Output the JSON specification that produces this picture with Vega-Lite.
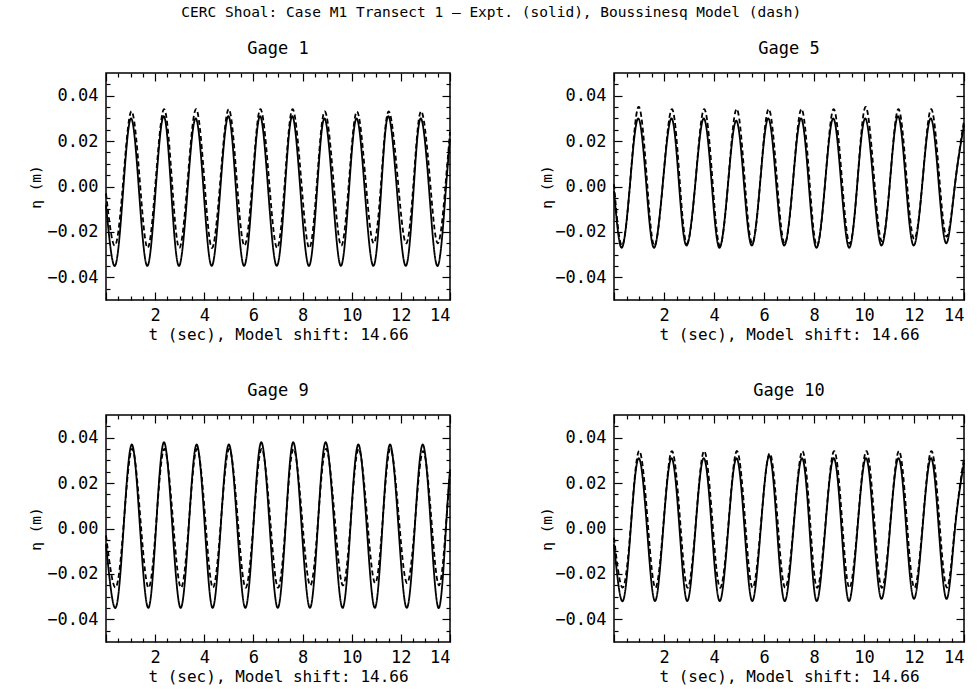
{
  "$schema": "https://vega.github.io/schema/vega-lite/v6.json",
  "background": "white",
  "padding": {"left": 28, "top": 5, "right": 3, "bottom": 5},
  "title": {"text": "CERC Shoal: Case M1 Transect 1 – Expt. (solid), Boussinesq Model (dash)", "fontSize": 14.5, "anchor": "middle", "dx": -7, "offset": 19},
  "columns": 2,
  "spacing": {"row": 115, "column": 164},
  "bounds": "flush",
  "data": {"values": [
    {"g":"Gage 1","t":0,"expt":-0.008,"model":-0.003},
    {"g":"Gage 1","t":0.36,"expt":-0.035,"model":-0.026},
    {"g":"Gage 1","t":0.69,"expt":-0.003,"model":0.001},
    {"g":"Gage 1","t":1.02,"expt":0.030,"model":0.033},
    {"g":"Gage 1","t":1.35,"expt":-0.003,"model":0.006},
    {"g":"Gage 1","t":1.68,"expt":-0.035,"model":-0.027},
    {"g":"Gage 1","t":2.01,"expt":-0.003,"model":0.001},
    {"g":"Gage 1","t":2.35,"expt":0.031,"model":0.034},
    {"g":"Gage 1","t":2.66,"expt":-0.003,"model":0.006},
    {"g":"Gage 1","t":2.97,"expt":-0.035,"model":-0.027},
    {"g":"Gage 1","t":3.31,"expt":-0.003,"model":0.001},
    {"g":"Gage 1","t":3.65,"expt":0.030,"model":0.034},
    {"g":"Gage 1","t":3.98,"expt":-0.003,"model":0.006},
    {"g":"Gage 1","t":4.30,"expt":-0.035,"model":-0.027},
    {"g":"Gage 1","t":4.64,"expt":-0.003,"model":0.001},
    {"g":"Gage 1","t":4.98,"expt":0.031,"model":0.034},
    {"g":"Gage 1","t":5.30,"expt":-0.003,"model":0.006},
    {"g":"Gage 1","t":5.62,"expt":-0.035,"model":-0.026},
    {"g":"Gage 1","t":5.95,"expt":-0.003,"model":0.001},
    {"g":"Gage 1","t":6.27,"expt":0.031,"model":0.034},
    {"g":"Gage 1","t":6.61,"expt":-0.003,"model":0.006},
    {"g":"Gage 1","t":6.95,"expt":-0.035,"model":-0.027},
    {"g":"Gage 1","t":7.27,"expt":-0.003,"model":0.001},
    {"g":"Gage 1","t":7.58,"expt":0.031,"model":0.034},
    {"g":"Gage 1","t":7.92,"expt":-0.003,"model":0.006},
    {"g":"Gage 1","t":8.26,"expt":-0.035,"model":-0.027},
    {"g":"Gage 1","t":8.58,"expt":-0.003,"model":0.001},
    {"g":"Gage 1","t":8.89,"expt":0.030,"model":0.033},
    {"g":"Gage 1","t":9.23,"expt":-0.003,"model":0.006},
    {"g":"Gage 1","t":9.56,"expt":-0.035,"model":-0.026},
    {"g":"Gage 1","t":9.88,"expt":-0.003,"model":0.001},
    {"g":"Gage 1","t":10.20,"expt":0.030,"model":0.033},
    {"g":"Gage 1","t":10.54,"expt":-0.003,"model":0.006},
    {"g":"Gage 1","t":10.88,"expt":-0.035,"model":-0.025},
    {"g":"Gage 1","t":11.19,"expt":-0.003,"model":0.001},
    {"g":"Gage 1","t":11.49,"expt":0.031,"model":0.033},
    {"g":"Gage 1","t":11.85,"expt":-0.003,"model":0.006},
    {"g":"Gage 1","t":12.20,"expt":-0.035,"model":-0.025},
    {"g":"Gage 1","t":12.51,"expt":-0.003,"model":0.001},
    {"g":"Gage 1","t":12.81,"expt":0.030,"model":0.033},
    {"g":"Gage 1","t":13.16,"expt":-0.003,"model":0.006},
    {"g":"Gage 1","t":13.50,"expt":-0.035,"model":-0.025},
    {"g":"Gage 1","t":13.82,"expt":-0.003,"model":0.001},
    {"g":"Gage 1","t":14.00,"expt":0.021,"model":0.024},

    {"g":"Gage 5","t":0,"expt":-0.002,"model":0.001},
    {"g":"Gage 5","t":0.31,"expt":-0.027,"model":-0.026},
    {"g":"Gage 5","t":0.64,"expt":0.001,"model":0.001},
    {"g":"Gage 5","t":0.97,"expt":0.030,"model":0.035},
    {"g":"Gage 5","t":1.29,"expt":0.001,"model":0.007},
    {"g":"Gage 5","t":1.60,"expt":-0.027,"model":-0.026},
    {"g":"Gage 5","t":1.95,"expt":0.001,"model":0.001},
    {"g":"Gage 5","t":2.30,"expt":0.030,"model":0.034},
    {"g":"Gage 5","t":2.60,"expt":0.001,"model":0.007},
    {"g":"Gage 5","t":2.90,"expt":-0.026,"model":-0.025},
    {"g":"Gage 5","t":3.25,"expt":0.001,"model":0.001},
    {"g":"Gage 5","t":3.59,"expt":0.030,"model":0.034},
    {"g":"Gage 5","t":3.91,"expt":0.001,"model":0.007},
    {"g":"Gage 5","t":4.22,"expt":-0.027,"model":-0.026},
    {"g":"Gage 5","t":4.56,"expt":0.001,"model":0.001},
    {"g":"Gage 5","t":4.89,"expt":0.029,"model":0.034},
    {"g":"Gage 5","t":5.20,"expt":0.001,"model":0.007},
    {"g":"Gage 5","t":5.51,"expt":-0.026,"model":-0.025},
    {"g":"Gage 5","t":5.84,"expt":0.001,"model":0.001},
    {"g":"Gage 5","t":6.17,"expt":0.030,"model":0.034},
    {"g":"Gage 5","t":6.49,"expt":0.001,"model":0.007},
    {"g":"Gage 5","t":6.81,"expt":-0.026,"model":-0.025},
    {"g":"Gage 5","t":7.15,"expt":0.001,"model":0.001},
    {"g":"Gage 5","t":7.48,"expt":0.030,"model":0.034},
    {"g":"Gage 5","t":7.79,"expt":0.001,"model":0.007},
    {"g":"Gage 5","t":8.10,"expt":-0.027,"model":-0.026},
    {"g":"Gage 5","t":8.44,"expt":0.001,"model":0.001},
    {"g":"Gage 5","t":8.77,"expt":0.030,"model":0.034},
    {"g":"Gage 5","t":9.09,"expt":0.001,"model":0.007},
    {"g":"Gage 5","t":9.41,"expt":-0.027,"model":-0.025},
    {"g":"Gage 5","t":9.73,"expt":0.001,"model":0.001},
    {"g":"Gage 5","t":10.05,"expt":0.030,"model":0.035},
    {"g":"Gage 5","t":10.38,"expt":0.001,"model":0.007},
    {"g":"Gage 5","t":10.70,"expt":-0.026,"model":-0.024},
    {"g":"Gage 5","t":11.03,"expt":0.001,"model":0.001},
    {"g":"Gage 5","t":11.36,"expt":0.031,"model":0.034},
    {"g":"Gage 5","t":11.68,"expt":0.001,"model":0.007},
    {"g":"Gage 5","t":11.99,"expt":-0.026,"model":-0.023},
    {"g":"Gage 5","t":12.33,"expt":0.001,"model":0.001},
    {"g":"Gage 5","t":12.67,"expt":0.030,"model":0.034},
    {"g":"Gage 5","t":12.99,"expt":0.001,"model":0.007},
    {"g":"Gage 5","t":13.30,"expt":-0.025,"model":-0.022},
    {"g":"Gage 5","t":13.64,"expt":0.001,"model":0.001},
    {"g":"Gage 5","t":14.00,"expt":0.027,"model":0.029},

    {"g":"Gage 9","t":0,"expt":-0.007,"model":-0.003},
    {"g":"Gage 9","t":0.39,"expt":-0.035,"model":-0.026},
    {"g":"Gage 9","t":0.72,"expt":0.001,"model":0.002},
    {"g":"Gage 9","t":1.05,"expt":0.037,"model":0.035},
    {"g":"Gage 9","t":1.38,"expt":0.001,"model":0.007},
    {"g":"Gage 9","t":1.72,"expt":-0.035,"model":-0.026},
    {"g":"Gage 9","t":2.04,"expt":0.001,"model":0.002},
    {"g":"Gage 9","t":2.36,"expt":0.038,"model":0.035},
    {"g":"Gage 9","t":2.70,"expt":0.001,"model":0.007},
    {"g":"Gage 9","t":3.04,"expt":-0.035,"model":-0.026},
    {"g":"Gage 9","t":3.37,"expt":0.001,"model":0.002},
    {"g":"Gage 9","t":3.69,"expt":0.037,"model":0.035},
    {"g":"Gage 9","t":4.02,"expt":0.001,"model":0.007},
    {"g":"Gage 9","t":4.34,"expt":-0.035,"model":-0.026},
    {"g":"Gage 9","t":4.67,"expt":0.001,"model":0.002},
    {"g":"Gage 9","t":5.00,"expt":0.037,"model":0.035},
    {"g":"Gage 9","t":5.34,"expt":0.001,"model":0.007},
    {"g":"Gage 9","t":5.67,"expt":-0.035,"model":-0.026},
    {"g":"Gage 9","t":6.00,"expt":0.001,"model":0.002},
    {"g":"Gage 9","t":6.32,"expt":0.038,"model":0.035},
    {"g":"Gage 9","t":6.66,"expt":0.001,"model":0.007},
    {"g":"Gage 9","t":6.99,"expt":-0.035,"model":-0.026},
    {"g":"Gage 9","t":7.31,"expt":0.001,"model":0.002},
    {"g":"Gage 9","t":7.62,"expt":0.038,"model":0.035},
    {"g":"Gage 9","t":7.96,"expt":0.001,"model":0.007},
    {"g":"Gage 9","t":8.30,"expt":-0.035,"model":-0.025},
    {"g":"Gage 9","t":8.62,"expt":0.001,"model":0.002},
    {"g":"Gage 9","t":8.94,"expt":0.038,"model":0.035},
    {"g":"Gage 9","t":9.29,"expt":0.001,"model":0.007},
    {"g":"Gage 9","t":9.63,"expt":-0.035,"model":-0.025},
    {"g":"Gage 9","t":9.95,"expt":0.001,"model":0.002},
    {"g":"Gage 9","t":10.27,"expt":0.037,"model":0.035},
    {"g":"Gage 9","t":10.61,"expt":0.001,"model":0.007},
    {"g":"Gage 9","t":10.94,"expt":-0.035,"model":-0.024},
    {"g":"Gage 9","t":11.25,"expt":0.001,"model":0.002},
    {"g":"Gage 9","t":11.56,"expt":0.037,"model":0.035},
    {"g":"Gage 9","t":11.90,"expt":0.001,"model":0.007},
    {"g":"Gage 9","t":12.24,"expt":-0.035,"model":-0.024},
    {"g":"Gage 9","t":12.57,"expt":0.001,"model":0.002},
    {"g":"Gage 9","t":12.89,"expt":0.037,"model":0.034},
    {"g":"Gage 9","t":13.22,"expt":0.001,"model":0.007},
    {"g":"Gage 9","t":13.55,"expt":-0.035,"model":-0.025},
    {"g":"Gage 9","t":13.84,"expt":0.001,"model":0.002},
    {"g":"Gage 9","t":14.00,"expt":0.026,"model":0.024},

    {"g":"Gage 10","t":0,"expt":-0.007,"model":-0.004},
    {"g":"Gage 10","t":0.35,"expt":-0.032,"model":-0.026},
    {"g":"Gage 10","t":0.67,"expt":0.000,"model":0.001},
    {"g":"Gage 10","t":0.99,"expt":0.031,"model":0.034},
    {"g":"Gage 10","t":1.32,"expt":0.000,"model":0.007},
    {"g":"Gage 10","t":1.64,"expt":-0.032,"model":-0.026},
    {"g":"Gage 10","t":1.97,"expt":0.000,"model":0.001},
    {"g":"Gage 10","t":2.30,"expt":0.031,"model":0.034},
    {"g":"Gage 10","t":2.62,"expt":0.000,"model":0.007},
    {"g":"Gage 10","t":2.93,"expt":-0.032,"model":-0.026},
    {"g":"Gage 10","t":3.26,"expt":0.000,"model":0.001},
    {"g":"Gage 10","t":3.59,"expt":0.031,"model":0.034},
    {"g":"Gage 10","t":3.91,"expt":0.000,"model":0.007},
    {"g":"Gage 10","t":4.23,"expt":-0.032,"model":-0.026},
    {"g":"Gage 10","t":4.57,"expt":0.000,"model":0.001},
    {"g":"Gage 10","t":4.90,"expt":0.031,"model":0.034},
    {"g":"Gage 10","t":5.22,"expt":0.000,"model":0.007},
    {"g":"Gage 10","t":5.53,"expt":-0.032,"model":-0.026},
    {"g":"Gage 10","t":5.87,"expt":0.000,"model":0.001},
    {"g":"Gage 10","t":6.21,"expt":0.032,"model":0.033},
    {"g":"Gage 10","t":6.52,"expt":0.000,"model":0.007},
    {"g":"Gage 10","t":6.83,"expt":-0.032,"model":-0.026},
    {"g":"Gage 10","t":7.18,"expt":0.000,"model":0.001},
    {"g":"Gage 10","t":7.52,"expt":0.031,"model":0.034},
    {"g":"Gage 10","t":7.82,"expt":0.000,"model":0.007},
    {"g":"Gage 10","t":8.11,"expt":-0.032,"model":-0.026},
    {"g":"Gage 10","t":8.45,"expt":0.000,"model":0.001},
    {"g":"Gage 10","t":8.79,"expt":0.031,"model":0.034},
    {"g":"Gage 10","t":9.10,"expt":0.000,"model":0.007},
    {"g":"Gage 10","t":9.40,"expt":-0.032,"model":-0.026},
    {"g":"Gage 10","t":9.74,"expt":0.000,"model":0.001},
    {"g":"Gage 10","t":10.08,"expt":0.031,"model":0.034},
    {"g":"Gage 10","t":10.39,"expt":0.000,"model":0.007},
    {"g":"Gage 10","t":10.70,"expt":-0.031,"model":-0.026},
    {"g":"Gage 10","t":11.04,"expt":0.000,"model":0.001},
    {"g":"Gage 10","t":11.38,"expt":0.031,"model":0.034},
    {"g":"Gage 10","t":11.69,"expt":0.000,"model":0.007},
    {"g":"Gage 10","t":12.00,"expt":-0.031,"model":-0.026},
    {"g":"Gage 10","t":12.34,"expt":0.000,"model":0.001},
    {"g":"Gage 10","t":12.68,"expt":0.031,"model":0.034},
    {"g":"Gage 10","t":12.99,"expt":0.000,"model":0.007},
    {"g":"Gage 10","t":13.31,"expt":-0.031,"model":-0.026},
    {"g":"Gage 10","t":13.64,"expt":0.000,"model":0.001},
    {"g":"Gage 10","t":14.00,"expt":0.029,"model":0.031}
  ]},
  "concat": [
    {
      "title": {"text": "Gage 1"},
      "width": 344, "height": 227,
      "transform": [{"filter": "datum.g == 'Gage 1'"}, {"fold": ["expt", "model"], "as": ["series", "eta"]}],
      "layer": [
        {"mark": {"type": "line", "interpolate": "natural", "color": "black", "strokeWidth": 1.8},
         "encoding": {
           "x": {"field": "t", "type": "quantitative", "scale": {"domain": [0, 14], "nice": false, "zero": false}, "axis": {"orient": "bottom", "values": [0,2,4,6,8,10,12,14], "labelExpr": "datum.value == 0 ? '' : datum.label", "tickSize": -8, "labelPadding": 15, "title": "t (sec), Model shift: 14.66", "titlePadding": 3}},
           "y": {"field": "eta", "type": "quantitative", "scale": {"domain": [-0.05, 0.05], "nice": false, "zero": false}, "axis": {"orient": "left", "values": [-0.04,-0.02,0,0.02,0.04], "format": ".2f", "tickSize": -8, "labelPadding": 16, "title": "η (m)", "titleFontSize": 14.5, "titlePadding": 3}},
           "strokeDash": {"field": "series", "type": "nominal", "scale": {"domain": ["expt", "model"], "range": [[1, 0], [5, 3]]}, "legend": null}
         }},
        {"mark": {"type": "line", "opacity": 0},
         "encoding": {
           "x": {"field": "t", "type": "quantitative", "scale": {"domain": [0, 14], "nice": false, "zero": false}, "axis": {"orient": "bottom", "values": [0.5,1,1.5,2.5,3,3.5,4.5,5,5.5,6.5,7,7.5,8.5,9,9.5,10.5,11,11.5,12.5,13,13.5], "tickSize": -4, "labels": false, "title": null}},
           "y": {"field": "eta", "type": "quantitative", "scale": {"domain": [-0.05, 0.05], "nice": false, "zero": false}, "axis": {"orient": "left", "values": [-0.045,-0.035,-0.03,-0.025,-0.015,-0.01,-0.005,0.005,0.01,0.015,0.025,0.03,0.035,0.045], "tickSize": -4, "labels": false, "title": null}}
         }},
        {"mark": {"type": "line", "opacity": 0},
         "encoding": {
           "x": {"field": "t", "type": "quantitative", "scale": {"domain": [0, 14], "nice": false, "zero": false}, "axis": {"orient": "top", "values": [0,2,4,6,8,10,12,14], "tickSize": -8, "labels": false, "title": null}},
           "y": {"field": "eta", "type": "quantitative", "scale": {"domain": [-0.05, 0.05], "nice": false, "zero": false}, "axis": {"orient": "right", "values": [-0.04,-0.02,0,0.02,0.04], "tickSize": -8, "labels": false, "title": null}}
         }},
        {"mark": {"type": "line", "opacity": 0},
         "encoding": {
           "x": {"field": "t", "type": "quantitative", "scale": {"domain": [0, 14], "nice": false, "zero": false}, "axis": {"orient": "top", "values": [0.5,1,1.5,2.5,3,3.5,4.5,5,5.5,6.5,7,7.5,8.5,9,9.5,10.5,11,11.5,12.5,13,13.5], "tickSize": -4, "labels": false, "title": null}},
           "y": {"field": "eta", "type": "quantitative", "scale": {"domain": [-0.05, 0.05], "nice": false, "zero": false}, "axis": {"orient": "right", "values": [-0.045,-0.035,-0.03,-0.025,-0.015,-0.01,-0.005,0.005,0.01,0.015,0.025,0.03,0.035,0.045], "tickSize": -4, "labels": false, "title": null}}
         }}
      ],
      "resolve": {"axis": {"x": "independent", "y": "independent"}}
    },
    {
      "title": {"text": "Gage 5"},
      "width": 350, "height": 227,
      "transform": [{"filter": "datum.g == 'Gage 5'"}, {"fold": ["expt", "model"], "as": ["series", "eta"]}],
      "layer": [
        {"mark": {"type": "line", "interpolate": "natural", "color": "black", "strokeWidth": 1.8},
         "encoding": {
           "x": {"field": "t", "type": "quantitative", "scale": {"domain": [0, 14], "nice": false, "zero": false}, "axis": {"orient": "bottom", "values": [0,2,4,6,8,10,12,14], "labelExpr": "datum.value == 0 ? '' : datum.label", "tickSize": -8, "labelPadding": 15, "title": "t (sec), Model shift: 14.66", "titlePadding": 3}},
           "y": {"field": "eta", "type": "quantitative", "scale": {"domain": [-0.05, 0.05], "nice": false, "zero": false}, "axis": {"orient": "left", "values": [-0.04,-0.02,0,0.02,0.04], "format": ".2f", "tickSize": -8, "labelPadding": 16, "title": "η (m)", "titleFontSize": 14.5, "titlePadding": 0}},
           "strokeDash": {"field": "series", "type": "nominal", "scale": {"domain": ["expt", "model"], "range": [[1, 0], [5, 3]]}, "legend": null}
         }},
        {"mark": {"type": "line", "opacity": 0},
         "encoding": {
           "x": {"field": "t", "type": "quantitative", "scale": {"domain": [0, 14], "nice": false, "zero": false}, "axis": {"orient": "bottom", "values": [0.5,1,1.5,2.5,3,3.5,4.5,5,5.5,6.5,7,7.5,8.5,9,9.5,10.5,11,11.5,12.5,13,13.5], "tickSize": -4, "labels": false, "title": null}},
           "y": {"field": "eta", "type": "quantitative", "scale": {"domain": [-0.05, 0.05], "nice": false, "zero": false}, "axis": {"orient": "left", "values": [-0.045,-0.035,-0.03,-0.025,-0.015,-0.01,-0.005,0.005,0.01,0.015,0.025,0.03,0.035,0.045], "tickSize": -4, "labels": false, "title": null}}
         }},
        {"mark": {"type": "line", "opacity": 0},
         "encoding": {
           "x": {"field": "t", "type": "quantitative", "scale": {"domain": [0, 14], "nice": false, "zero": false}, "axis": {"orient": "top", "values": [0,2,4,6,8,10,12,14], "tickSize": -8, "labels": false, "title": null}},
           "y": {"field": "eta", "type": "quantitative", "scale": {"domain": [-0.05, 0.05], "nice": false, "zero": false}, "axis": {"orient": "right", "values": [-0.04,-0.02,0,0.02,0.04], "tickSize": -8, "labels": false, "title": null}}
         }},
        {"mark": {"type": "line", "opacity": 0},
         "encoding": {
           "x": {"field": "t", "type": "quantitative", "scale": {"domain": [0, 14], "nice": false, "zero": false}, "axis": {"orient": "top", "values": [0.5,1,1.5,2.5,3,3.5,4.5,5,5.5,6.5,7,7.5,8.5,9,9.5,10.5,11,11.5,12.5,13,13.5], "tickSize": -4, "labels": false, "title": null}},
           "y": {"field": "eta", "type": "quantitative", "scale": {"domain": [-0.05, 0.05], "nice": false, "zero": false}, "axis": {"orient": "right", "values": [-0.045,-0.035,-0.03,-0.025,-0.015,-0.01,-0.005,0.005,0.01,0.015,0.025,0.03,0.035,0.045], "tickSize": -4, "labels": false, "title": null}}
         }}
      ],
      "resolve": {"axis": {"x": "independent", "y": "independent"}}
    },
    {
      "title": {"text": "Gage 9"},
      "width": 344, "height": 227,
      "transform": [{"filter": "datum.g == 'Gage 9'"}, {"fold": ["expt", "model"], "as": ["series", "eta"]}],
      "layer": [
        {"mark": {"type": "line", "interpolate": "natural", "color": "black", "strokeWidth": 1.8},
         "encoding": {
           "x": {"field": "t", "type": "quantitative", "scale": {"domain": [0, 14], "nice": false, "zero": false}, "axis": {"orient": "bottom", "values": [0,2,4,6,8,10,12,14], "labelExpr": "datum.value == 0 ? '' : datum.label", "tickSize": -8, "labelPadding": 15, "title": "t (sec), Model shift: 14.66", "titlePadding": 3}},
           "y": {"field": "eta", "type": "quantitative", "scale": {"domain": [-0.05, 0.05], "nice": false, "zero": false}, "axis": {"orient": "left", "values": [-0.04,-0.02,0,0.02,0.04], "format": ".2f", "tickSize": -8, "labelPadding": 16, "title": "η (m)", "titleFontSize": 14.5, "titlePadding": 3}},
           "strokeDash": {"field": "series", "type": "nominal", "scale": {"domain": ["expt", "model"], "range": [[1, 0], [5, 3]]}, "legend": null}
         }},
        {"mark": {"type": "line", "opacity": 0},
         "encoding": {
           "x": {"field": "t", "type": "quantitative", "scale": {"domain": [0, 14], "nice": false, "zero": false}, "axis": {"orient": "bottom", "values": [0.5,1,1.5,2.5,3,3.5,4.5,5,5.5,6.5,7,7.5,8.5,9,9.5,10.5,11,11.5,12.5,13,13.5], "tickSize": -4, "labels": false, "title": null}},
           "y": {"field": "eta", "type": "quantitative", "scale": {"domain": [-0.05, 0.05], "nice": false, "zero": false}, "axis": {"orient": "left", "values": [-0.045,-0.035,-0.03,-0.025,-0.015,-0.01,-0.005,0.005,0.01,0.015,0.025,0.03,0.035,0.045], "tickSize": -4, "labels": false, "title": null}}
         }},
        {"mark": {"type": "line", "opacity": 0},
         "encoding": {
           "x": {"field": "t", "type": "quantitative", "scale": {"domain": [0, 14], "nice": false, "zero": false}, "axis": {"orient": "top", "values": [0,2,4,6,8,10,12,14], "tickSize": -8, "labels": false, "title": null}},
           "y": {"field": "eta", "type": "quantitative", "scale": {"domain": [-0.05, 0.05], "nice": false, "zero": false}, "axis": {"orient": "right", "values": [-0.04,-0.02,0,0.02,0.04], "tickSize": -8, "labels": false, "title": null}}
         }},
        {"mark": {"type": "line", "opacity": 0},
         "encoding": {
           "x": {"field": "t", "type": "quantitative", "scale": {"domain": [0, 14], "nice": false, "zero": false}, "axis": {"orient": "top", "values": [0.5,1,1.5,2.5,3,3.5,4.5,5,5.5,6.5,7,7.5,8.5,9,9.5,10.5,11,11.5,12.5,13,13.5], "tickSize": -4, "labels": false, "title": null}},
           "y": {"field": "eta", "type": "quantitative", "scale": {"domain": [-0.05, 0.05], "nice": false, "zero": false}, "axis": {"orient": "right", "values": [-0.045,-0.035,-0.03,-0.025,-0.015,-0.01,-0.005,0.005,0.01,0.015,0.025,0.03,0.035,0.045], "tickSize": -4, "labels": false, "title": null}}
         }}
      ],
      "resolve": {"axis": {"x": "independent", "y": "independent"}}
    },
    {
      "title": {"text": "Gage 10"},
      "width": 350, "height": 227,
      "transform": [{"filter": "datum.g == 'Gage 10'"}, {"fold": ["expt", "model"], "as": ["series", "eta"]}],
      "layer": [
        {"mark": {"type": "line", "interpolate": "natural", "color": "black", "strokeWidth": 1.8},
         "encoding": {
           "x": {"field": "t", "type": "quantitative", "scale": {"domain": [0, 14], "nice": false, "zero": false}, "axis": {"orient": "bottom", "values": [0,2,4,6,8,10,12,14], "labelExpr": "datum.value == 0 ? '' : datum.label", "tickSize": -8, "labelPadding": 15, "title": "t (sec), Model shift: 14.66", "titlePadding": 3}},
           "y": {"field": "eta", "type": "quantitative", "scale": {"domain": [-0.05, 0.05], "nice": false, "zero": false}, "axis": {"orient": "left", "values": [-0.04,-0.02,0,0.02,0.04], "format": ".2f", "tickSize": -8, "labelPadding": 16, "title": "η (m)", "titleFontSize": 14.5, "titlePadding": 0}},
           "strokeDash": {"field": "series", "type": "nominal", "scale": {"domain": ["expt", "model"], "range": [[1, 0], [5, 3]]}, "legend": null}
         }},
        {"mark": {"type": "line", "opacity": 0},
         "encoding": {
           "x": {"field": "t", "type": "quantitative", "scale": {"domain": [0, 14], "nice": false, "zero": false}, "axis": {"orient": "bottom", "values": [0.5,1,1.5,2.5,3,3.5,4.5,5,5.5,6.5,7,7.5,8.5,9,9.5,10.5,11,11.5,12.5,13,13.5], "tickSize": -4, "labels": false, "title": null}},
           "y": {"field": "eta", "type": "quantitative", "scale": {"domain": [-0.05, 0.05], "nice": false, "zero": false}, "axis": {"orient": "left", "values": [-0.045,-0.035,-0.03,-0.025,-0.015,-0.01,-0.005,0.005,0.01,0.015,0.025,0.03,0.035,0.045], "tickSize": -4, "labels": false, "title": null}}
         }},
        {"mark": {"type": "line", "opacity": 0},
         "encoding": {
           "x": {"field": "t", "type": "quantitative", "scale": {"domain": [0, 14], "nice": false, "zero": false}, "axis": {"orient": "top", "values": [0,2,4,6,8,10,12,14], "tickSize": -8, "labels": false, "title": null}},
           "y": {"field": "eta", "type": "quantitative", "scale": {"domain": [-0.05, 0.05], "nice": false, "zero": false}, "axis": {"orient": "right", "values": [-0.04,-0.02,0,0.02,0.04], "tickSize": -8, "labels": false, "title": null}}
         }},
        {"mark": {"type": "line", "opacity": 0},
         "encoding": {
           "x": {"field": "t", "type": "quantitative", "scale": {"domain": [0, 14], "nice": false, "zero": false}, "axis": {"orient": "top", "values": [0.5,1,1.5,2.5,3,3.5,4.5,5,5.5,6.5,7,7.5,8.5,9,9.5,10.5,11,11.5,12.5,13,13.5], "tickSize": -4, "labels": false, "title": null}},
           "y": {"field": "eta", "type": "quantitative", "scale": {"domain": [-0.05, 0.05], "nice": false, "zero": false}, "axis": {"orient": "right", "values": [-0.045,-0.035,-0.03,-0.025,-0.015,-0.01,-0.005,0.005,0.01,0.015,0.025,0.03,0.035,0.045], "tickSize": -4, "labels": false, "title": null}}
         }}
      ],
      "resolve": {"axis": {"x": "independent", "y": "independent"}}
    }
  ],
  "config": {
    "view": {"stroke": "black", "strokeWidth": 1.5},
    "axis": {"domain": false, "grid": false, "tickColor": "black", "tickWidth": 1.2, "labelColor": "black", "titleColor": "black", "labelFont": "DejaVu Sans Mono", "titleFont": "DejaVu Sans Mono", "labelFontSize": 17, "titleFontSize": 16, "titleFontWeight": "normal"},
    "title": {"font": "DejaVu Sans Mono", "fontSize": 17, "fontWeight": "normal", "color": "black", "offset": 14}
  }
}
